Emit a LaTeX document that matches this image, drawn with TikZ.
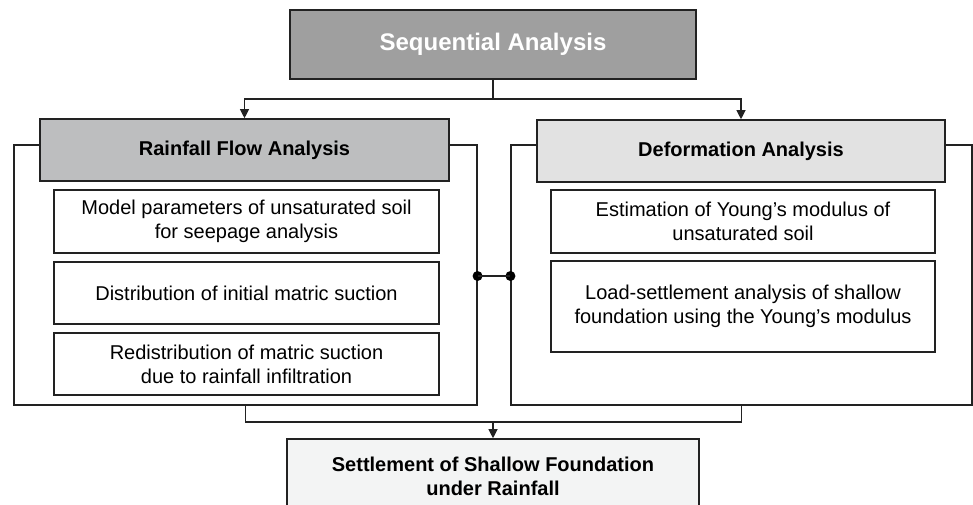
\documentclass[tikz,border=0pt]{standalone}
\usepackage{fontspec}
\setmainfont{Liberation Sans}
\usetikzlibrary{arrows.meta}
\definecolor{seqgray}{HTML}{9F9F9F}
\definecolor{rfagray}{HTML}{BDBEBF}
\definecolor{dagray}{HTML}{E2E2E2}
\definecolor{botgray}{HTML}{F3F4F4}
\definecolor{linec}{HTML}{222222}
\tikzset{
  header/.style={draw=linec, line width=1.6pt, inner sep=0pt, font=\fontsize{20}{24}\selectfont\bfseries, align=center, minimum height=62pt},
  outerbox/.style={draw=linec, line width=1.1pt, inner sep=0pt},
  itembox/.style={draw=linec, line width=1.3pt, inner sep=0pt, font=\fontsize{20}{24}\selectfont, align=center},
  conn/.style={draw=linec, line width=1.1pt},
  arr/.style={conn, -{Triangle[width=9pt,length=9pt]}},
  dot/.style={circle, fill=black, inner sep=0pt, minimum size=10pt}
}
\begin{document}
\begin{tikzpicture}[x=1pt,y=-1pt]
\clip (0,0) rectangle (973,504);
\fill[white] (0,0) rectangle (973,504);
% outer frames
\node[outerbox, minimum width=463pt, minimum height=260pt] (outL) at (245.5,275) {};
\node[outerbox, minimum width=461pt, minimum height=260pt] (outR) at (741.5,275) {};
% top
\node[header, fill=seqgray, text=white, minimum width=406pt, minimum height=69pt, font=\fontsize{24}{28}\selectfont\bfseries] (seq) at (493,44.5) {Sequential Analysis};
% headers
\node[header, fill=rfagray, minimum width=409pt] (rfa) at (244.5,150) {Rainfall Flow Analysis};
\node[header, fill=dagray, minimum width=408pt] (da) at (741,151) {Deformation Analysis};
% left items
\node[itembox, minimum width=385pt, minimum height=63pt] (l1) at (246.5,221.5) {Model parameters of unsaturated soil\\for seepage analysis};
\node[itembox, minimum width=385pt, minimum height=62pt] (l2) at (246.5,293) {Distribution of initial matric suction};
\node[itembox, minimum width=385pt, minimum height=62pt] (l3) at (246.5,364) {Redistribution of matric suction\\due to rainfall infiltration};
% right items
\node[itembox, minimum width=384pt, minimum height=63pt] (r1) at (743,221.5) {Estimation of Young’s modulus of\\unsaturated soil};
\node[itembox, minimum width=384pt, minimum height=91pt] (r2) at (743,306.5) {Load-settlement analysis of shallow\\foundation using the Young’s modulus};
% bottom
\node[header, fill=botgray, minimum width=412pt, minimum height=74pt] (bot) at (493,476) {Settlement of Shallow Foundation\\under Rainfall};
% top connectors
\coordinate (split) at (493,99);
\draw[conn] (seq.south) -- (split);
\draw[arr] (split) -| (rfa.north);
\draw[arr] (split) -| (da.north);
% bottom connectors
\coordinate (merge) at (493,422);
\draw[conn] (outL.south) |- (merge) -| (outR.south);
\draw[arr] (merge) -- (bot.north);
% link between frames
\node[dot] (jL) at (outL.east |- 0,276) {};
\node[dot] (jR) at (outR.west |- 0,276) {};
\draw[conn] (jL.center) -- (jR.center);
\end{tikzpicture}
\end{document}
